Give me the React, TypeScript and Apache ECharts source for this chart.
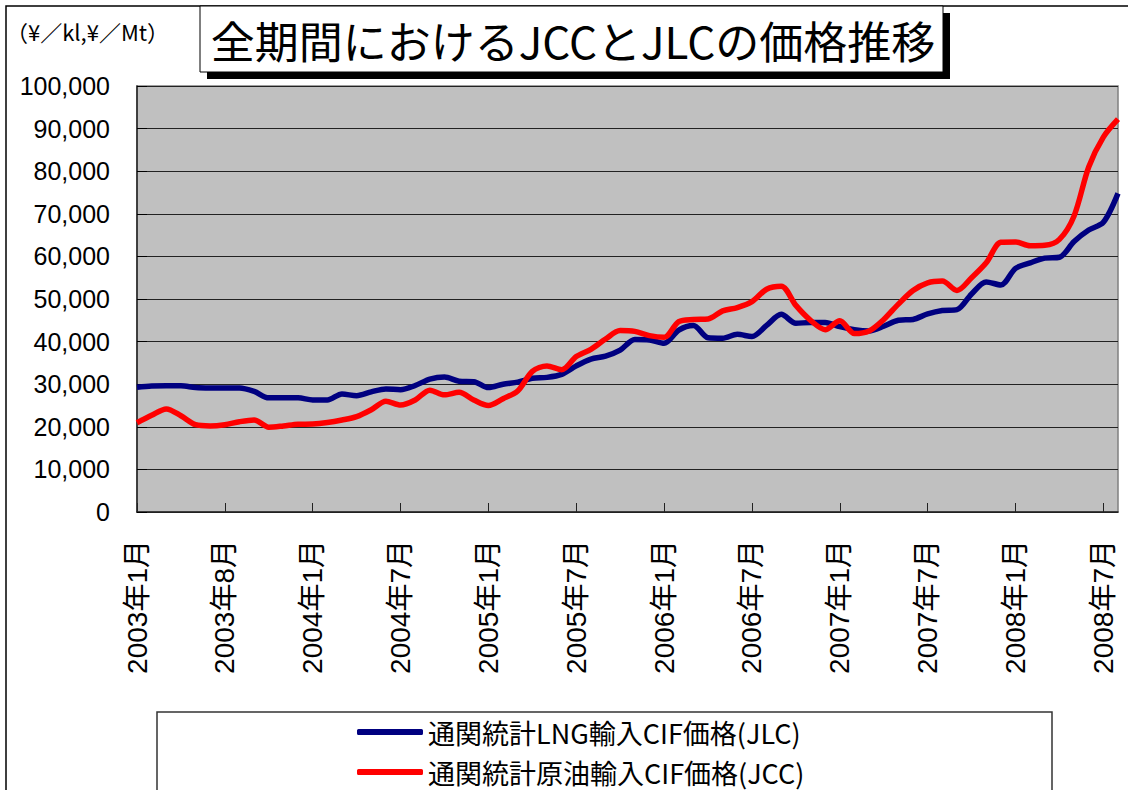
import React, { useEffect, useRef } from "react";
import * as echarts from "echarts";

// Monthly categories 2003年1月 .. 2008年8月 (68 points)
const categories: string[] = [];
for (let y = 2003; y <= 2008; y++) {
  for (let m = 1; m <= 12; m++) {
    if (categories.length < 68) categories.push(`${y}年${m}月`);
  }
}

// Tick labels shown every 6 categories (as in the original chart)
const tickLabels = [
  "2003年1月", "2003年8月", "2004年1月", "2004年7月", "2005年1月", "2005年7月",
  "2006年1月", "2006年7月", "2007年1月", "2007年7月", "2008年1月", "2008年7月",
];

// 通関統計LNG輸入CIF価格(JLC) ¥/Mt
const jlc = [
  29300, 29600, 29650, 29650, 29200, 29100, 29100, 29100, 28300, 26800,
  26800, 26800, 26300, 26300, 27700, 27300, 28200, 28900, 28700, 29700,
  31200, 31700, 30700, 30600, 29200, 30000, 30500, 31400, 31600, 32300,
  34300, 35900, 36600, 38000, 40500, 40400, 39600, 42700, 43800, 40900,
  40800, 41700, 41200, 43800, 46400, 44300, 44500, 44500, 43500, 42800,
  42500, 43600, 45000, 45200, 46500, 47300, 47500, 51200, 54000, 53300,
  57200, 58500, 59600, 59800, 63500, 66200, 68000, 74800,
];

// 通関統計原油輸入CIF価格(JCC) ¥/kl
const jcc = [
  20950, 22700, 24200, 22600, 20500, 20200, 20500, 21200, 21600, 19900,
  20200, 20600, 20650, 21000, 21600, 22400, 24000, 26000, 25100, 26300,
  28600, 27500, 28100, 26300, 25000, 26600, 28400, 33000, 34300, 33400,
  36500, 38200, 40600, 42600, 42400, 41400, 41000, 44700, 45200, 45300,
  47200, 48000, 49400, 52300, 53000, 48500, 45000, 42800, 44900, 41900,
  42500, 45200, 48800, 52000, 53800, 54200, 52000, 55000, 58500, 63300,
  63400, 62500, 62600, 64000, 69500, 81000, 88000, 92200,
];

const seriesNames = ["通関統計LNG輸入CIF価格(JLC)", "通関統計原油輸入CIF価格(JCC)"];
const titleText = "全期間におけるJCCとJLCの価格推移";
const unitText = "（¥／kl,¥／Mt）";

export default function App() {
  const ref = useRef<HTMLDivElement>(null);
  useEffect(() => {
    if (!ref.current) return;
    const chart = echarts.init(ref.current, null, { renderer: "svg" });
    const jp = "'Noto Sans CJK JP', 'Liberation Sans', sans-serif";
    const legendBase = {
      orient: "horizontal",
      left: 357,
      icon: "roundRect",
      itemWidth: 66,
      itemHeight: 6,
      itemGap: 10,
      padding: 0,
      textStyle: { fontSize: 27, color: "#000", fontFamily: jp, lineHeight: 30 },
    };
    chart.setOption({
      animation: false,
      backgroundColor: "#ffffff",
      grid: {
        left: 137,
        top: 86,
        right: 10,
        bottom: 278,
        show: true,
        backgroundColor: "#C0C0C0",
        borderColor: "#808080",
        borderWidth: 1.5,
      },
      xAxis: {
        type: "category",
        data: categories,
        boundaryGap: false,
        axisLine: { lineStyle: { color: "#222", width: 1.5 } },
        axisTick: { inside: true, length: 9, interval: 5, lineStyle: { color: "#222" } },
        axisLabel: {
          interval: 5,
          rotate: 90,
          margin: 28,
          color: "#000",
          fontSize: 28,
          fontFamily: "'Liberation Sans', 'Noto Sans CJK JP', sans-serif",
          formatter: (_v: string, i: number) => (i % 6 === 0 ? tickLabels[i / 6] ?? "" : ""),
        },
        splitLine: { show: false },
      },
      yAxis: {
        type: "value",
        min: 0,
        max: 100000,
        interval: 10000,
        axisLine: { show: true, lineStyle: { color: "#222", width: 1.5 } },
        axisTick: { show: true, inside: true, length: 10, lineStyle: { color: "#000" } },
        axisLabel: {
          color: "#000",
          fontSize: 25,
          margin: 27,
          fontFamily: "'Liberation Sans', sans-serif",
          formatter: (v: number) => v.toLocaleString("en-US"),
        },
        splitLine: { show: true, lineStyle: { color: "#222", width: 1 } },
      },
      legend: [
        { ...legendBase, top: 717, data: [seriesNames[0]] },
        { ...legendBase, top: 757, data: [seriesNames[1]] },
      ],
      series: [
        {
          name: seriesNames[0],
          type: "line",
          data: jlc,
          smooth: 0.3,
          symbol: "none",
          lineStyle: { color: "#000080", width: 5.5 },
          itemStyle: { color: "#000080" },
          z: 3,
        },
        {
          name: seriesNames[1],
          type: "line",
          data: jcc,
          smooth: 0.3,
          symbol: "none",
          lineStyle: { color: "#FF0000", width: 5.5 },
          itemStyle: { color: "#FF0000" },
          z: 4,
        },
      ],
      graphic: [
        {
          type: "rect",
          shape: { x: 6, y: 6, width: 1140, height: 820 },
          style: { fill: "none", stroke: "#000", lineWidth: 1.5 },
          z: 0,
          silent: true,
        },
        {
          type: "rect",
          shape: { x: 207, y: 13, width: 743, height: 66 },
          style: { fill: "#000" },
          z: 10,
        },
        {
          type: "rect",
          shape: { x: 200, y: 6, width: 743, height: 66 },
          style: { fill: "#fff", stroke: "#000", lineWidth: 1 },
          z: 11,
        },
        {
          type: "text",
          x: 573,
          y: 40,
          style: {
            text: titleText,
            fontSize: 44,
            fontFamily: jp,
            fill: "#000",
            align: "center",
            verticalAlign: "middle",
          },
          z: 12,
        },
        {
          type: "text",
          x: 6,
          y: 31,
          style: {
            text: unitText,
            fontSize: 22,
            fontFamily: jp,
            fill: "#000",
            align: "left",
            verticalAlign: "middle",
          },
          z: 12,
        },
        {
          type: "rect",
          shape: { x: 157, y: 712, width: 895, height: 120 },
          style: { fill: "#fff", stroke: "#333", lineWidth: 1.5 },
          z: -1,
          silent: true,
        },
      ],
    });
    return () => chart.dispose();
  }, []);
  return (
    <div
      ref={ref}
      style={{ position: "fixed", left: 0, top: 0, width: 1128, height: 790 }}
    />
  );
}
